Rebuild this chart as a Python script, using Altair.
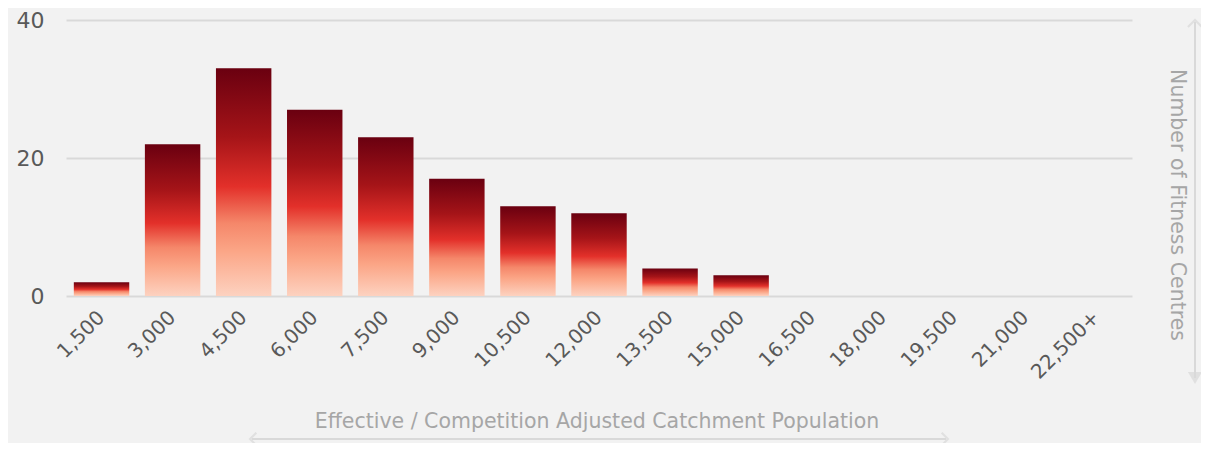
import altair as alt
import pandas as pd

categories = ["1,500", "3,000", "4,500", "6,000", "7,500", "9,000", "10,500", "12,000",
              "13,500", "15,000", "16,500", "18,000", "19,500", "21,000", "22,500+"]
counts = [2, 22, 33, 27, 23, 17, 13, 12, 4, 3, 0, 0, 0, 0, 0]
y_ticks = [0, 20, 40]
x_title = "Effective / Competition Adjusted Catchment Population"
y_title = "Number of Fitness Centres"

df = pd.DataFrame({"cat": categories, "count": counts})

FONT = "DejaVu Sans"
W, H = 1066, 276
TOP = 12

grad = alt.LinearGradient(
    gradient="linear", x1=0, y1=0, x2=0, y2=1,
    stops=[
        alt.GradientStop(color="#6a0010", offset=0),
        alt.GradientStop(color="#a51418", offset=0.3),
        alt.GradientStop(color="#e3302a", offset=0.52),
        alt.GradientStop(color="#f5876a", offset=0.68),
        alt.GradientStop(color="#fba586", offset=0.8),
        alt.GradientStop(color="#fdd2c0", offset=1),
    ],
)

bars = alt.Chart(df).mark_bar(color=grad).encode(
    x=alt.X("cat:N", sort=categories,
            scale=alt.Scale(paddingInner=0.22, paddingOuter=0.11),
            axis=alt.Axis(title=None, labelAngle=-45, labelFontSize=20, labelColor="#595959",
                          labelFont=FONT, domain=False, ticks=False, labelPadding=18,
                          labelAlign="right", labelBaseline="middle")),
    y=alt.Y("count:Q", scale=alt.Scale(domain=[0, 40]),
            axis=alt.Axis(title=None, values=y_ticks, labelFontSize=22, labelColor="#595959",
                          labelFont=FONT, domain=False, ticks=False, labelPadding=22,
                          gridColor="#d9d9d9", gridWidth=2)),
)

one = alt.Data(values=[{"a": 1}])

# positions relative to plot origin (page x 66, page y 20)
xt = alt.Chart(one).mark_text(font=FONT, fontSize=20.5, color="#a6a6a6").encode(
    x=alt.value(531), y=alt.value(402), text=alt.value(x_title))
yt = alt.Chart(one).mark_text(font=FONT, fontSize=20.5, color="#a6a6a6", angle=90).encode(
    x=alt.value(1111), y=alt.value(185), text=alt.value(y_title))

ARROW = "#d9d9d9"
XY = 419
xline = alt.Chart(one).mark_rule(color=ARROW, strokeWidth=2).encode(
    x=alt.value(186), x2=alt.value(880), y=alt.value(XY))
yline = alt.Chart(one).mark_rule(color=ARROW, strokeWidth=2).encode(
    x=alt.value(1129), y=alt.value(2), y2=alt.value(358))

chev = "M -1 -1 L 0 0 L -1 1"
x_right = alt.Chart(one).mark_point(shape=chev, filled=False, stroke=ARROW, strokeWidth=2,
                                    size=160, angle=0).encode(
    x=alt.value(882), y=alt.value(XY))
x_left = alt.Chart(one).mark_point(shape=chev, filled=False, stroke=ARROW, strokeWidth=2,
                                   size=160, angle=180).encode(
    x=alt.value(184), y=alt.value(XY))
y_top = alt.Chart(one).mark_point(shape=chev, filled=False, stroke=ARROW, strokeWidth=2,
                                  size=200, angle=270).encode(
    x=alt.value(1129), y=alt.value(0))
y_bot = alt.Chart(one).mark_point(shape="triangle-down", filled=True, fill=ARROW,
                                  size=200).encode(
    x=alt.value(1129), y=alt.value(358))

chart = alt.layer(bars, xt, yt, xline, yline, x_right, x_left, y_top, y_bot).properties(
    width=W, height=H,
    autosize=alt.AutoSizeParams(type="none"),
    padding={"left": 58, "top": TOP, "right": 69, "bottom": 435 - TOP - H},
    background="#f2f2f2",
).configure_view(stroke=None)

chart.save("out.html", embed_options={"renderer": "svg", "actions": False})
